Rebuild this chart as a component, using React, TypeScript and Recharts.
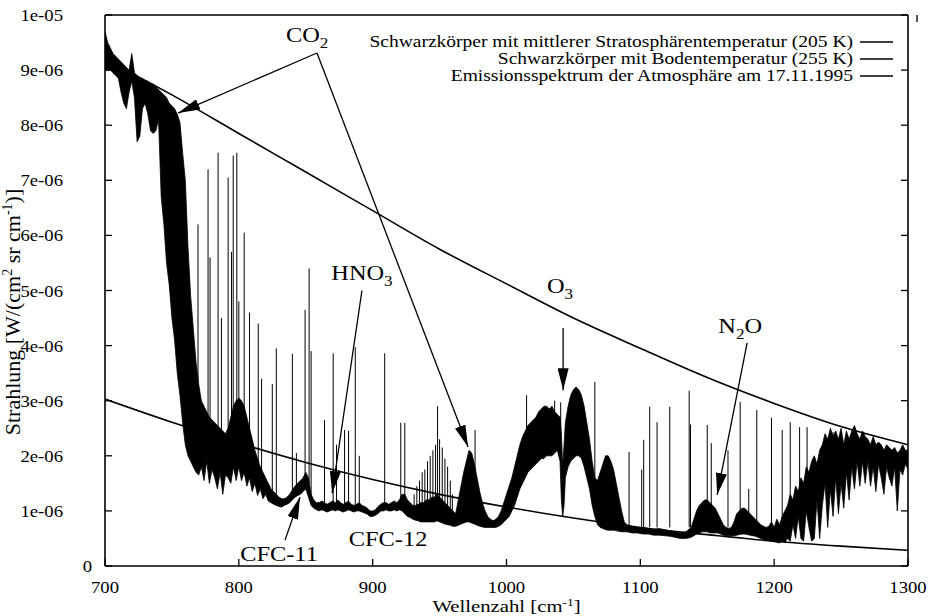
import React from 'react';
import {
  Area,
  ComposedChart,
  Legend,
  Line,
  ReferenceDot,
  ReferenceLine,
  XAxis,
  YAxis,
} from 'recharts';

const FONT = "'Liberation Serif', 'Times New Roman', Times, serif";
// the scanned figure is stretched sideways, so text is widened a bit
const SX = 1.22;
const TICK_SX = 1.1;

const xTicks = [700, 800, 900, 1000, 1100, 1200, 1300];
// y values are in units of 1e-6 W/(cm2 sr cm-1)
const yTicks = [0, 1, 2, 3, 4, 5, 6, 7, 8, 9, 10];
const yTickLabels = ['0', '1e-06', '2e-06', '3e-06', '4e-06', '5e-06', '6e-06', '7e-06', '8e-06', '9e-06', '1e-05'];

const legendLabels = [
  'Schwarzkörper mit mittlerer Stratosphärentemperatur (205 K)',
  'Schwarzkörper mit Bodentemperatur (255 K)',
  'Emissionsspektrum der Atmosphäre am 17.11.1995',
];

// blackbody curves, read every 50 cm-1
const planckNu = [700, 750, 800, 850, 900, 950, 1000, 1050, 1100, 1150, 1200, 1250, 1300];
const bodenCurve = [9.2, 8.55, 7.85, 7.15, 6.45, 5.75, 5.12, 4.5, 3.95, 3.42, 2.95, 2.53, 2.2];
const stratoCurve = [3.03, 2.61, 2.23, 1.88, 1.57, 1.3, 1.07, 0.87, 0.7, 0.57, 0.45, 0.36, 0.285];

// measured spectrum: dense band as [wavenumber, lower edge, upper edge]
const band: [number, number, number][] = [
  [700, 9.0, 9.7], [702, 9.0, 9.5], [704, 9.0, 9.4], [706, 8.95, 9.3], [708, 8.9, 9.25],
  [710, 8.85, 9.2], [712, 8.6, 9.15], [714, 8.4, 9.1], [716, 8.3, 9.05], [718, 8.6, 9.0],
  [720, 8.8, 9.3], [722, 8.5, 8.95], [724, 7.7, 8.9], [726, 7.8, 8.85], [728, 8.3, 8.85],
  [730, 8.4, 8.8], [732, 8.2, 8.8], [734, 7.9, 8.75], [736, 7.85, 8.75], [738, 7.9, 8.7],
  [740, 8.1, 8.65], [742, 6.7, 8.6], [744, 6.2, 8.55], [746, 5.5, 8.5], [748, 5.1, 8.4],
  [750, 4.5, 8.35], [752, 4.1, 8.3], [754, 3.5, 8.2], [756, 3.1, 8.05], [758, 2.6, 7.5],
  [760, 2.2, 7.0], [762, 2.0, 5.8], [764, 1.9, 4.9], [766, 1.8, 4.3], [768, 1.7, 3.7],
  [770, 1.65, 3.3], [772, 1.8, 3.0], [774, 1.55, 2.9], [776, 1.9, 2.8], [778, 1.5, 2.7],
  [780, 1.75, 2.65], [782, 1.6, 2.6], [784, 1.4, 2.55], [786, 1.7, 2.5], [788, 1.3, 2.45],
  [790, 1.65, 2.4], [792, 1.6, 2.5], [794, 1.5, 2.7], [796, 1.8, 2.9], [798, 1.55, 3.0],
  [800, 1.8, 3.05], [802, 1.55, 3.0], [804, 1.7, 2.9], [806, 1.45, 2.7], [808, 1.6, 2.5],
  [810, 1.35, 2.3], [812, 1.5, 2.1], [814, 1.28, 1.95], [816, 1.4, 1.8], [818, 1.22, 1.7],
  [820, 1.3, 1.6], [822, 1.18, 1.5], [824, 1.15, 1.4], [826, 1.12, 1.35], [828, 1.1, 1.3],
  [830, 1.08, 1.25], [832, 1.07, 1.22], [834, 1.1, 1.22], [836, 1.12, 1.25], [838, 1.15, 1.3],
  [840, 1.2, 1.38], [842, 1.25, 1.45], [844, 1.28, 1.5], [846, 1.3, 1.55], [848, 1.35, 1.6],
  [850, 1.4, 1.7], [852, 1.25, 1.6], [854, 1.1, 1.3], [856, 1.05, 1.2], [858, 1.02, 1.15],
  [860, 1.0, 1.15], [862, 1.02, 1.18], [864, 1.0, 1.15], [866, 0.98, 1.12], [868, 1.0, 1.15],
  [870, 1.02, 1.18], [872, 1.0, 1.15], [874, 1.02, 1.2], [876, 1.0, 1.15], [878, 0.98, 1.12],
  [880, 1.0, 1.15], [882, 1.02, 1.18], [884, 1.0, 1.12], [886, 0.98, 1.1], [888, 1.0, 1.12],
  [890, 1.0, 1.15], [892, 0.98, 1.1], [894, 0.96, 1.08], [896, 0.94, 1.05], [898, 0.9, 1.0],
  [900, 0.9, 1.0], [902, 0.92, 1.02], [904, 0.95, 1.08], [906, 1.0, 1.12], [908, 1.0, 1.15],
  [910, 1.02, 1.15], [912, 1.0, 1.12], [914, 1.0, 1.15], [916, 1.02, 1.18], [918, 1.0, 1.15],
  [920, 1.02, 1.2], [922, 1.0, 1.3], [924, 0.95, 1.3], [926, 0.9, 1.2], [928, 0.88, 1.15],
  [930, 0.85, 1.1], [932, 0.83, 1.1], [934, 0.82, 1.12], [936, 0.8, 1.15], [938, 0.8, 1.15],
  [940, 0.8, 1.2], [942, 0.8, 1.2], [944, 0.8, 1.25], [946, 0.8, 1.25], [948, 0.82, 1.3],
  [950, 0.8, 1.25], [952, 0.78, 1.2], [954, 0.76, 1.15], [956, 0.75, 1.1], [958, 0.74, 1.05],
  [960, 0.72, 1.0], [962, 0.72, 0.95], [964, 0.74, 1.2], [966, 0.76, 1.45], [968, 0.78, 1.7],
  [970, 0.8, 1.9], [972, 0.8, 2.1], [974, 0.78, 2.05], [976, 0.76, 1.85], [978, 0.74, 1.6],
  [980, 0.72, 1.35], [982, 0.71, 1.15], [984, 0.7, 1.0], [986, 0.7, 0.9], [988, 0.7, 0.85],
  [990, 0.7, 0.82], [992, 0.7, 0.85], [994, 0.72, 0.9], [996, 0.75, 1.0], [998, 0.8, 1.15],
  [1000, 0.85, 1.3], [1002, 0.9, 1.45], [1004, 1.0, 1.6], [1006, 1.1, 1.8], [1008, 1.25, 2.0],
  [1010, 1.4, 2.2], [1012, 1.5, 2.35], [1014, 1.6, 2.45], [1016, 1.7, 2.55], [1018, 1.75, 2.6],
  [1020, 1.8, 2.65], [1022, 1.85, 2.7], [1024, 1.9, 2.8], [1026, 1.95, 2.85], [1028, 1.95, 2.9],
  [1030, 2.0, 2.9], [1032, 2.0, 2.85], [1034, 2.0, 2.9], [1036, 2.05, 2.8], [1038, 2.1, 2.75],
  [1040, 1.9, 2.7], [1041, 1.2, 2.4], [1042, 0.9, 1.8], [1043, 1.1, 2.2], [1044, 1.6, 2.6],
  [1046, 1.8, 2.9], [1048, 1.9, 3.1], [1050, 1.95, 3.2], [1052, 2.0, 3.25], [1054, 2.0, 3.2],
  [1056, 1.95, 3.1], [1058, 1.8, 2.9], [1060, 1.6, 2.6], [1062, 1.4, 2.3], [1064, 1.1, 1.9],
  [1066, 0.9, 1.6], [1068, 0.75, 1.55], [1070, 0.7, 1.7], [1072, 0.68, 1.85], [1074, 0.66, 2.0],
  [1076, 0.65, 2.0], [1078, 0.65, 1.9], [1080, 0.65, 1.75], [1082, 0.64, 1.5], [1084, 0.63, 1.25],
  [1086, 0.62, 1.0], [1088, 0.62, 0.8], [1090, 0.62, 0.75], [1094, 0.6, 0.72], [1098, 0.6, 0.7],
  [1102, 0.58, 0.7], [1106, 0.58, 0.68], [1110, 0.56, 0.66], [1114, 0.56, 0.68], [1118, 0.55, 0.66],
  [1122, 0.54, 0.64], [1126, 0.52, 0.62], [1130, 0.5, 0.6], [1134, 0.5, 0.62], [1138, 0.52, 0.7],
  [1140, 0.55, 0.85], [1142, 0.58, 1.0], [1144, 0.6, 1.1], [1146, 0.62, 1.15], [1148, 0.62, 1.2],
  [1150, 0.62, 1.2], [1152, 0.6, 1.15], [1154, 0.6, 1.1], [1156, 0.6, 1.05], [1158, 0.6, 0.95],
  [1160, 0.58, 0.85], [1162, 0.56, 0.75], [1164, 0.55, 0.7], [1166, 0.55, 0.68], [1168, 0.55, 0.7],
  [1170, 0.55, 0.8], [1172, 0.56, 0.95], [1174, 0.57, 1.0], [1176, 0.58, 1.05], [1178, 0.58, 1.05],
  [1180, 0.57, 1.0], [1182, 0.56, 0.95], [1184, 0.55, 0.9], [1186, 0.54, 0.85], [1188, 0.52, 0.8],
  [1190, 0.5, 0.75], [1192, 0.48, 0.72], [1194, 0.47, 0.7], [1196, 0.46, 0.72], [1198, 0.45, 0.8],
  [1200, 0.44, 0.7], [1202, 0.43, 0.85], [1204, 0.42, 0.75], [1206, 0.45, 0.9], [1208, 0.43, 1.0],
  [1210, 0.5, 1.1], [1212, 0.45, 1.3], [1214, 0.75, 1.2], [1216, 0.5, 1.45], [1218, 0.9, 1.35],
  [1220, 0.5, 1.6], [1222, 0.45, 1.5], [1224, 1.0, 1.8], [1226, 0.7, 1.7], [1228, 0.45, 1.9],
  [1230, 0.5, 2.0], [1232, 1.2, 1.85], [1234, 0.5, 2.1], [1236, 1.1, 2.2], [1238, 1.5, 2.4],
  [1240, 0.7, 2.3], [1242, 1.4, 2.5], [1244, 0.9, 2.35], [1246, 1.6, 2.45], [1248, 0.95, 2.3],
  [1250, 1.5, 2.5], [1252, 1.05, 2.2], [1254, 1.7, 2.45], [1256, 1.2, 2.3], [1258, 1.8, 2.45],
  [1260, 1.4, 2.55], [1262, 1.9, 2.4], [1264, 1.45, 2.3], [1266, 1.9, 2.45], [1268, 1.5, 2.35],
  [1270, 1.9, 2.3], [1272, 1.45, 2.2], [1274, 1.8, 2.35], [1276, 1.35, 2.2], [1278, 1.85, 2.25],
  [1280, 1.6, 2.2], [1282, 1.3, 2.1], [1284, 1.8, 2.2], [1286, 1.6, 2.15], [1288, 1.45, 2.1],
  [1290, 1.8, 2.15], [1292, 1.0, 2.05], [1294, 1.75, 2.1], [1296, 1.65, 2.2], [1298, 1.85, 2.1],
  [1300, 1.75, 2.1],
];

// single emission lines: [wavenumber, foot, peak]
const spikes: [number, number, number][] = [
  [769.5, 2.0, 6.2], [777, 2.0, 7.2], [778.5, 2.0, 5.6], [784.5, 2.0, 7.5], [787, 2.0, 4.5],
  [792, 2.0, 7.05], [794.5, 2.0, 5.7], [795.8, 2.0, 7.45], [798.5, 2.0, 7.5], [800, 2.0, 4.8],
  [804, 2.0, 6.05], [808, 2.0, 4.6], [814.5, 1.8, 4.4], [817, 1.6, 3.4], [825, 1.3, 3.3],
  [828, 1.3, 3.95], [840, 1.3, 3.85], [843, 1.4, 2.05], [849.5, 1.5, 4.65], [852.5, 1.5, 5.4],
  [854, 1.2, 3.9], [864, 1.1, 2.65], [870.5, 1.1, 3.86], [873, 1.1, 2.2], [879, 1.1, 2.47],
  [882, 1.1, 2.45], [887, 1.1, 3.97], [890, 1.1, 2.0], [909, 1.1, 3.86], [921, 1.1, 2.6],
  [924, 1.1, 2.6], [931, 0.9, 1.3], [933, 0.9, 1.45], [935, 0.9, 1.55], [937, 0.9, 1.7],
  [939, 0.9, 1.75], [941, 0.9, 1.9], [943, 0.9, 2.0], [945, 0.9, 2.1], [947, 0.9, 2.2],
  [948.5, 0.9, 2.9], [950, 0.9, 2.3], [952, 0.9, 2.15], [954, 0.9, 1.95], [956, 0.9, 1.8],
  [958, 0.9, 1.55], [959.5, 0.9, 1.3], [976.5, 1.5, 2.47], [1015, 2.0, 3.1], [1036, 2.5, 3.0],
  [1040.5, 2.0, 2.97], [1066, 1.2, 3.34], [1091.6, 0.7, 2.07], [1101, 0.7, 1.75], [1102.5, 0.7, 2.29],
  [1107, 0.7, 2.89], [1112.5, 0.7, 2.61], [1122, 0.7, 2.89], [1136.5, 0.7, 3.18], [1137.5, 0.7, 2.57],
  [1150, 1.0, 2.56], [1153, 1.0, 2.23], [1165.5, 0.7, 2.1], [1174.6, 0.8, 2.98], [1181, 0.8, 1.4],
  [1187, 0.7, 2.83], [1198, 0.6, 2.69], [1206, 0.7, 2.47], [1212, 0.9, 2.61], [1219, 1.0, 2.52],
  [1224.6, 1.0, 2.52], [1230, 1.2, 1.8], [1244, 1.5, 2.43], [1260.5, 1.8, 2.41],
];

const bandData = band.map(([nu, lo, hi]) => ({ nu, range: [lo, hi] }));
const spikeData = spikes.flatMap(([nu, foot, peak]) => [
  { nu, s: foot },
  { nu, s: peak },
  { nu, s: null },
]);
const curveData = planckNu.map((nu, i) => ({ nu, boden: bodenCurve[i], strato: stratoCurve[i] }));

const textStyle = { fontFamily: FONT, fill: '#000' };

function SText({
  x,
  y,
  anchor = 'start',
  size = 16,
  sx = SX,
  children,
}: {
  x: number;
  y: number;
  anchor?: 'start' | 'middle' | 'end';
  size?: number;
  sx?: number;
  children: React.ReactNode;
}) {
  return (
    <g transform={`translate(${x},${y}) scale(${sx},1)`}>
      <text x={0} y={0} textAnchor={anchor} style={{ ...textStyle, fontSize: size }}>
        {children}
      </text>
    </g>
  );
}

function BottomTick({ x, y, payload }: any) {
  return (
    <g>
      <line x1={x} y1={y} x2={x} y2={y - 7} stroke="#000" strokeWidth={1.3} />
      <SText x={x} y={y + 27} anchor="middle" size={17} sx={TICK_SX}>
        {payload.value}
      </SText>
    </g>
  );
}

function TopTick({ x, y }: any) {
  return <line x1={x} y1={y} x2={x} y2={y + 7} stroke="#000" strokeWidth={1.3} />;
}

function LeftTick({ x, y, payload }: any) {
  const label = yTickLabels[yTicks.indexOf(payload.value)];
  return (
    <g>
      <line x1={x} y1={y} x2={x + 7} y2={y} stroke="#000" strokeWidth={1.3} />
      <SText x={payload.value === 0 ? 92 : 63} y={y + 6} anchor="end" size={17} sx={TICK_SX}>
        {label}
      </SText>
    </g>
  );
}

function RightTick({ x, y }: any) {
  return <line x1={x} y1={y} x2={x - 7} y2={y} stroke="#000" strokeWidth={1.3} />;
}

function XTitle({ viewBox }: any) {
  const cx = viewBox.x + viewBox.width / 2;
  return (
    <SText x={cx} y={viewBox.y + 46} anchor="middle" size={17}>
      Wellenzahl [cm
      <tspan dy={-6} style={{ fontSize: 11 }}>-1</tspan>
      <tspan dy={6}>]</tspan>
    </SText>
  );
}

function YTitle() {
  return (
    <g transform="translate(20,312) rotate(-90)">
      <text x={0} y={0} textAnchor="middle" style={{ ...textStyle, fontSize: 22 }}>
        Strahlung [W/(cm
        <tspan dy={-8} style={{ fontSize: 14 }}>2</tspan>
        <tspan dy={8}> sr cm</tspan>
        <tspan dy={-8} style={{ fontSize: 14 }}>-1</tspan>
        <tspan dy={8}>)]</tspan>
      </text>
    </g>
  );
}

function LegendBox() {
  return (
    <svg width={933} height={100} style={{ display: 'block' }}>
      {legendLabels.map((t, i) => (
        <g key={t}>
          <SText x={853} y={47 + 17 * i} anchor="end" size={16}>
            {t}
          </SText>
          <line x1={860} x2={893} y1={42 + 17 * i} y2={42 + 17 * i} stroke="#000" strokeWidth={1.3} />
        </g>
      ))}
    </svg>
  );
}

// molecule labels: [wavenumber, value, main text, subscript, tail text]
const labels: [number, number, string, string, string][] = [
  [851, 9.51, 'CO', '2', ''],
  [892, 5.19, 'HNO', '3', ''],
  [830, 0.09, 'CFC-11', '', ''],
  [911.5, 0.36, 'CFC-12', '', ''],
  [1040, 4.95, 'O', '3', ''],
  [1174.6, 4.23, 'N', '2', 'O'],
];

// arrows: start and tip in data coordinates
const arrows: [number, number, number, number][] = [
  [858.4, 9.31, 754.6, 8.22],
  [858.4, 9.31, 971.3, 2.16],
  [892, 5.0, 869.7, 1.32],
  [834.5, 0.47, 845.7, 1.25],
  [1042.3, 4.32, 1042.3, 3.19],
  [1179.8, 4.05, 1157.4, 1.29],
];

export default function App() {
  return (
    <div style={{ position: 'absolute', left: 0, top: 0, width: 933, height: 616, background: '#fff' }}>
      <svg width={0} height={0} style={{ position: 'absolute' }}>
        <defs>
          <marker
            id="arrowHead"
            viewBox="0 0 22 11"
            refX={22}
            refY={5.5}
            markerWidth={22}
            markerHeight={11}
            markerUnits="userSpaceOnUse"
            orient="auto"
          >
            <path d="M0,0 L22,5.5 L0,11 z" fill="#000" />
          </marker>
        </defs>
      </svg>
      <ComposedChart width={933} height={616} data={bandData} margin={{ top: 14, right: 24, bottom: 0, left: 0 }}>
        <XAxis
          xAxisId="b"
          dataKey="nu"
          type="number"
          domain={[700, 1300]}
          ticks={xTicks}
          allowDataOverflow
          height={50}
          tickSize={0}
          tickMargin={0}
          tickLine={false}
          tick={<BottomTick />}
          axisLine={{ stroke: '#000', strokeWidth: 1.6 }}
          label={{ content: (p: any) => <XTitle {...p} /> }}
        />
        <XAxis
          xAxisId="t"
          orientation="top"
          type="number"
          domain={[700, 1300]}
          ticks={xTicks}
          allowDataOverflow
          height={1}
          tickSize={0}
          tickMargin={0}
          tickLine={false}
          tick={<TopTick />}
          axisLine={{ stroke: '#000', strokeWidth: 1.6 }}
        />
        <YAxis
          yAxisId="l"
          type="number"
          domain={[0, 10]}
          ticks={yTicks}
          allowDataOverflow
          width={105}
          tickSize={0}
          tickMargin={0}
          tickLine={false}
          tick={<LeftTick />}
          axisLine={{ stroke: '#000', strokeWidth: 1.6 }}
          label={{ content: () => <YTitle /> }}
        />
        <YAxis
          yAxisId="r"
          orientation="right"
          type="number"
          domain={[0, 10]}
          ticks={yTicks}
          allowDataOverflow
          width={1}
          tickSize={0}
          tickMargin={0}
          tickLine={false}
          tick={<RightTick />}
          axisLine={{ stroke: '#000', strokeWidth: 1.6 }}
        />
        <Legend
          layout="horizontal"
          verticalAlign="middle"
          content={() => <LegendBox />}
          wrapperStyle={{ left: 0, top: 0, width: 933, height: 100, margin: 0, padding: 0 }}
        />
        <Area
          xAxisId="b"
          yAxisId="l"
          dataKey="range"
          type="linear"
          stroke="#000"
          strokeWidth={0.8}
          fill="#000"
          fillOpacity={1}
          dot={false}
          activeDot={false}
          isAnimationActive={false}
        />
        <Line
          xAxisId="b"
          yAxisId="l"
          data={spikeData}
          dataKey="s"
          type="linear"
          stroke="#000"
          strokeWidth={1}
          dot={false}
          activeDot={false}
          connectNulls={false}
          isAnimationActive={false}
        />
        <Line
          xAxisId="b"
          yAxisId="l"
          data={curveData}
          dataKey="boden"
          type="monotone"
          stroke="#000"
          strokeWidth={1.6}
          dot={false}
          activeDot={false}
          isAnimationActive={false}
        />
        <Line
          xAxisId="b"
          yAxisId="l"
          data={curveData}
          dataKey="strato"
          type="monotone"
          stroke="#000"
          strokeWidth={1.6}
          dot={false}
          activeDot={false}
          isAnimationActive={false}
        />
        {arrows.map(([x1, y1, x2, y2], i) => (
          <ReferenceLine
            key={`arrow-${i}`}
            xAxisId="b"
            yAxisId="l"
            segment={[
              { x: x1, y: y1 },
              { x: x2, y: y2 },
            ]}
            stroke="#000"
            strokeWidth={1.3}
            markerEnd="url(#arrowHead)"
            ifOverflow="visible"
          />
        ))}
        {labels.map(([x, y, main, sub, tail]) => (
          <ReferenceDot
            key={main}
            xAxisId="b"
            yAxisId="l"
            x={x}
            y={y}
            r={0}
            ifOverflow="visible"
            shape={(p: any) => (
              <SText x={p.cx} y={p.cy} anchor="middle" size={20}>
                {main}
                {sub ? (
                  <tspan dy={6} style={{ fontSize: 14 }}>
                    {sub}
                  </tspan>
                ) : null}
                {tail ? <tspan dy={-6}>{tail}</tspan> : null}
              </SText>
            )}
          />
        ))}
      </ComposedChart>
    </div>
  );
}
